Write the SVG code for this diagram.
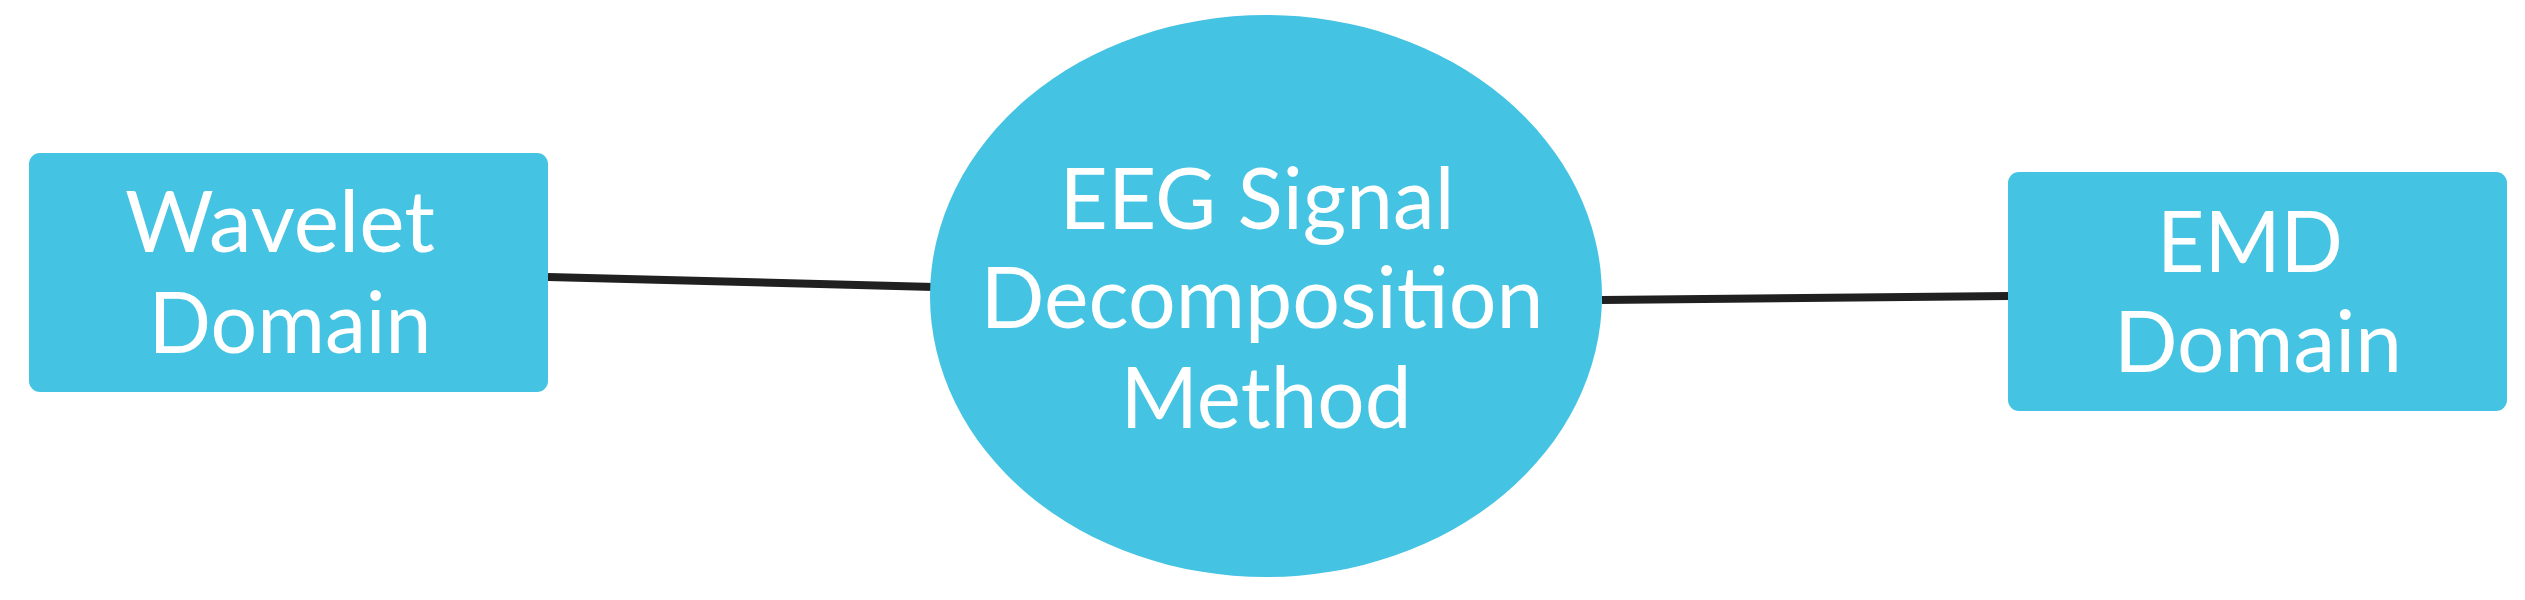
<svg xmlns="http://www.w3.org/2000/svg" width="2525" height="600" viewBox="0 0 2525 600">
<style>
.node{fill:#44C3E3}
.lbl{font-family:Lato,"Liberation Sans",sans-serif;font-size:86px;fill:#ffffff;text-anchor:middle}
.conn{stroke:#202020;stroke-width:8;fill:none;stroke-linecap:butt}
</style>
<rect width="2525" height="600" fill="#ffffff"/>
<g id="connectors">
<line class="conn" x1="548" y1="277" x2="934" y2="287"/>
<line class="conn" x1="1602" y1="300" x2="2010" y2="296"/>
</g>
<g id="wavelet">
<rect class="node" x="29" y="153" width="519" height="239" rx="11"/>
<text class="lbl" x="280" y="252" textLength="310" lengthAdjust="spacingAndGlyphs">Wavelet</text>
<text class="lbl" x="290" y="353" textLength="283" lengthAdjust="spacingAndGlyphs">Domain</text>
</g>
<g id="eeg">
<ellipse class="node" cx="1266" cy="296" rx="336" ry="281"/>
<text class="lbl" x="1257" y="229" textLength="395" lengthAdjust="spacingAndGlyphs">EEG Signal</text>
<text class="lbl" x="1262" y="328" textLength="563" lengthAdjust="spacingAndGlyphs">Decomposition</text>
<text class="lbl" x="1266" y="428" textLength="291" lengthAdjust="spacingAndGlyphs">Method</text>
</g>
<g id="emd">
<rect class="node" x="2008" y="172" width="499" height="239" rx="11"/>
<text class="lbl" x="2250" y="272" textLength="186" lengthAdjust="spacingAndGlyphs">EMD</text>
<text class="lbl" x="2258" y="372" textLength="288" lengthAdjust="spacingAndGlyphs">Domain</text>
</g>
</svg>
